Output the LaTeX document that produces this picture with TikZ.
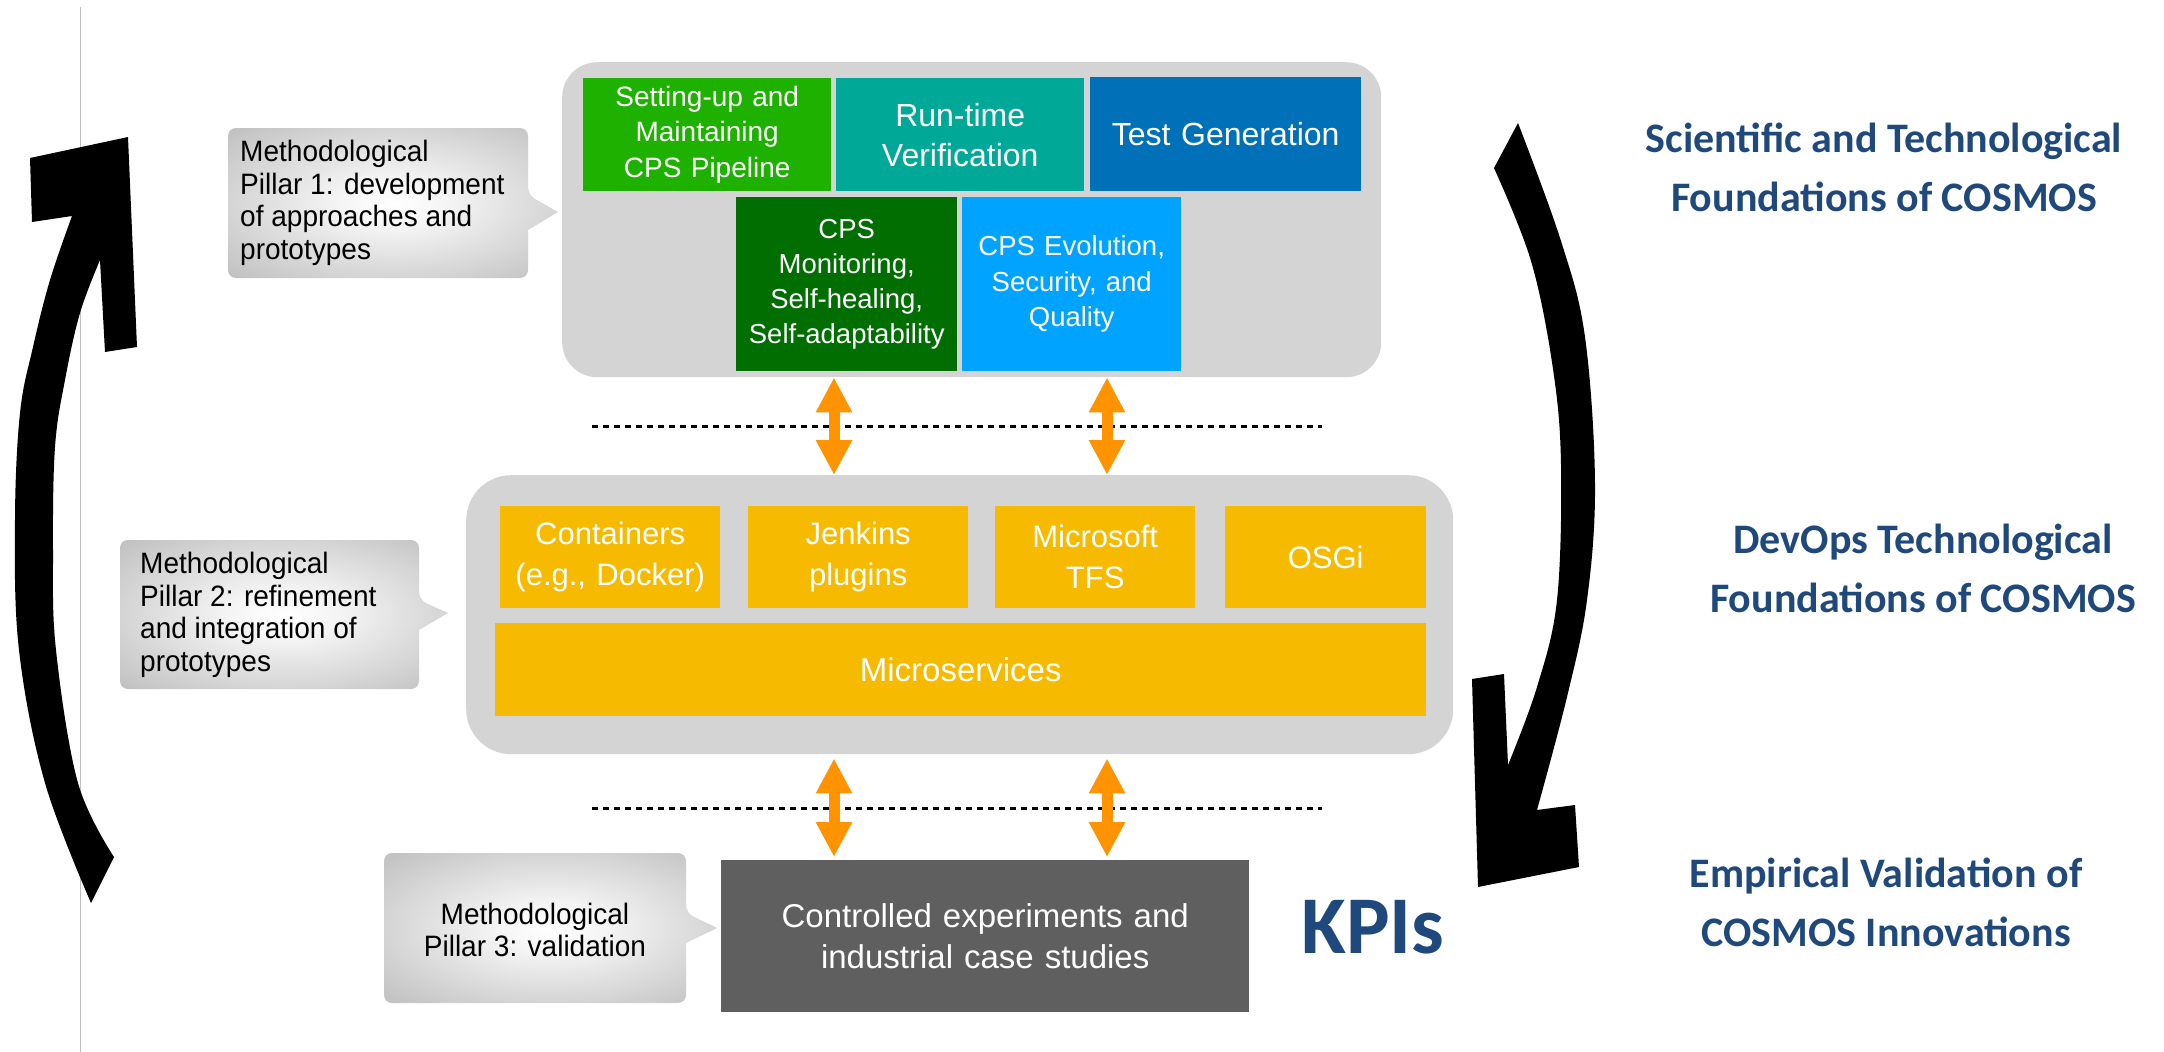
\documentclass[tikz,border=0pt]{standalone}
\usepackage{fontspec}
\setmainfont{Liberation Sans}
\newfontfamily\titlefont{Carlito}
\newfontfamily\bubblefont[FakeStretch=0.95]{Liberation Sans}
\usetikzlibrary{arrows.meta}

\definecolor{panelgray}{RGB}{212,212,212}
\definecolor{cgreen}{RGB}{30,177,0}
\definecolor{cteal}{RGB}{0,168,152}
\definecolor{cblue}{RGB}{0,113,184}
\definecolor{cdkgreen}{RGB}{0,110,0}
\definecolor{clblue}{RGB}{0,163,255}
\definecolor{cyellow}{RGB}{246,186,0}
\definecolor{carrow}{RGB}{255,148,0}
\definecolor{cdark}{RGB}{95,95,95}
\definecolor{cnavy}{RGB}{31,73,125}

\newcommand\setfs[2]{\fontsize{#1}{#2}\selectfont}

% grey bubble gradient: light centre, darker rim
\pgfdeclareradialshading{calloutshade}{\pgfpoint{0bp}{0bp}}{%
  color(0bp)=(white); color(8bp)=(white!96!black);
  color(50bp)=(black!36); color(71bp)=(black!44)}

\begin{document}
\begin{tikzpicture}[x=1pt,y=-1pt,
  panel/.style={fill=panelgray, rounded corners=#1, inner sep=0pt, anchor=north west},
  blk/.style={inner sep=0pt, anchor=north west, align=center, text=white},
  callouttext/.style={inner sep=0pt, text=black, font=\bubblefont\setfs{29.5}{32.5}},
  navytext/.style={align=center, text=cnavy, inner sep=0pt, font=\titlefont\bfseries\setfs{42}{59}},
  sepline/.style={draw=black, line width=3pt, dash pattern=on 6pt off 5pt},
  link/.style={draw=carrow, line width=11pt,
    {Triangle[length=35pt,width=34pt]}-{Triangle[length=35pt,width=34pt]}},
  bigarrow/.style={fill=black}]

\fill[white] (0,0) rectangle (2164,1052);
\useasboundingbox (0,0) rectangle (2164,1052);

% thin rule on the left
\draw[black!25, line width=1pt] (80,7) -- (80,1052);

% ---------- layer panels ----------
\node[panel=35pt, minimum width=819pt, minimum height=315pt] (p1) at (562,62) {};
\node[panel=45pt, minimum width=987pt, minimum height=279pt] (p2) at (466,475) {};

% ---------- top layer ----------
\node[blk, fill=cgreen, text width=248pt, minimum height=113pt, font=\setfs{28}{35.5}]
  (setup) at (583,78) {Setting-up and\\Maintaining\\CPS Pipeline};
\node[blk, fill=cteal, text width=248pt, minimum height=113pt, font=\setfs{32}{40}]
  (runtime) at (836,78) {Run-time\\Verification};
\node[blk, fill=cblue, text width=271pt, minimum height=114pt, font=\setfs{32}{40}]
  (testgen) at (1090,77) {Test Generation};
\node[blk, fill=cdkgreen, text width=221pt, minimum height=174pt, font=\setfs{27.5}{35}]
  (monitor) at (736,197) {CPS\\Monitoring,\\Self-healing,\\Self-adaptability};
\node[blk, fill=clblue, text width=219pt, minimum height=174pt, font=\setfs{27.5}{35.5}]
  (evol) at (962,197) {CPS Evolution,\\Security, and\\Quality};

% ---------- middle layer ----------
\node[blk, fill=cyellow, text width=220pt, minimum height=102pt, font=\setfs{31}{41}]
  (contain) at (500,506) {Containers\\(e.g., Docker)};
\node[blk, fill=cyellow, text width=220pt, minimum height=102pt, font=\setfs{31}{41}]
  (jenkins) at (748,506) {Jenkins\\plugins};
\node[blk, fill=cyellow, text width=200pt, minimum height=102pt, font=\setfs{31}{41}]
  (tfs) at (995,506) {Microsoft\\TFS};
\node[blk, fill=cyellow, text width=201pt, minimum height=102pt, font=\setfs{31}{41}]
  (osgi) at (1225,506) {OSGi};
\node[blk, fill=cyellow, text width=931pt, minimum height=93pt, font=\setfs{33}{41}]
  (micro) at (495,623) {Microservices};

% ---------- bottom layer ----------
\node[blk, fill=cdark, text width=528pt, minimum height=152pt, font=\setfs{33}{41}]
  (valid) at (721,860) {Controlled experiments and\\industrial case studies};
\node[anchor=base, inner sep=0pt, text=cnavy, font=\titlefont\bfseries\setfs{82}{82}]
  (kpi) at (1373,953) {KPIs};

% ---------- layer separators ----------
\coordinate (s1a) at (592,426); \coordinate (s1b) at (1322,426);
\coordinate (s2a) at (592,808); \coordinate (s2b) at (1322,808);
\draw[sepline] (s1a) -- (s1b);
\draw[sepline] (s2a) -- (s2b);

% ---------- interactions between layers ----------
\coordinate (xa) at (834,0);
\coordinate (xb) at (1107,0);
\draw[link] (p1.south -| xa) -- (p2.north -| xa);
\draw[link] (p1.south -| xb) -- (p2.north -| xb);
\draw[link, shorten <=4pt, shorten >=3pt] (p2.south -| xa) -- (valid.north -| xa);
\draw[link, shorten <=4pt, shorten >=3pt] (p2.south -| xb) -- (valid.north -| xb);

% ---------- pillar bubbles ----------
\shade[shading=calloutshade] (228,203) [rounded corners=8pt] -- (228,128) -- (528,128)
  -- (528,195) [sharp corners] -- (558,212) -- (528,230) [rounded corners=8pt]
  -- (528,278) -- (228,278) -- cycle;
\node[callouttext, anchor=west, align=left] (pillar1) at (240,203)
  {Methodological\\Pillar 1: development\\of approaches and\\prototypes};

\shade[shading=calloutshade] (120,615) [rounded corners=8pt] -- (120,540) -- (419,540)
  -- (419,600) [sharp corners] -- (448,613) -- (419,630) [rounded corners=8pt]
  -- (419,689) -- (120,689) -- cycle;
\node[callouttext, anchor=west, align=left] (pillar2) at (140,615)
  {Methodological\\Pillar 2: refinement\\and integration of\\prototypes};

\shade[shading=calloutshade] (384,928) [rounded corners=8pt] -- (384,853) -- (686,853)
  -- (686,913) [sharp corners] -- (717,928) -- (686,943) [rounded corners=8pt]
  -- (686,1003) -- (384,1003) -- cycle;
\node[callouttext, align=center] (pillar3) at (535,930)
  {Methodological\\Pillar 3: validation};

% ---------- cycle arrows ----------
\fill[bigarrow] plot[smooth, tension=0.6] coordinates {(91,903) (45,783) (19,650) (15,520) (20,413) (33,347) (50,280) (72,216)}
  -- (32,222) -- (30,158) -- (128,137) -- (137,347) -- (105,352)
  -- plot[smooth, tension=0.6] coordinates {(100,260) (80,313) (65,380) (55,447) (53,550) (56,650) (78,783) (114,857)}
  -- cycle;

\fill[bigarrow] plot[smooth, tension=0.6] coordinates {(1518,123) (1561,241) (1585,337) (1595,484) (1587,600) (1567,697) (1537,810)}
  -- (1575,805) -- (1579,867) -- (1478,887) -- (1472,679) -- (1504,674)
  -- plot[smooth, tension=0.6] coordinates {(1508,765) (1537,687) (1557,600) (1561,465) (1553,369) (1531,261) (1494,168)}
  -- cycle;

% ---------- layer titles ----------
\node[navytext] (lab1) at (1884,167) {Scientific and Technological\\Foundations of COSMOS};
\node[navytext] (lab2) at (1923,568) {DevOps Technological\\Foundations of COSMOS};
\node[navytext] (lab3) at (1886,902) {Empirical Validation of\\COSMOS Innovations};

\end{tikzpicture}
\end{document}
